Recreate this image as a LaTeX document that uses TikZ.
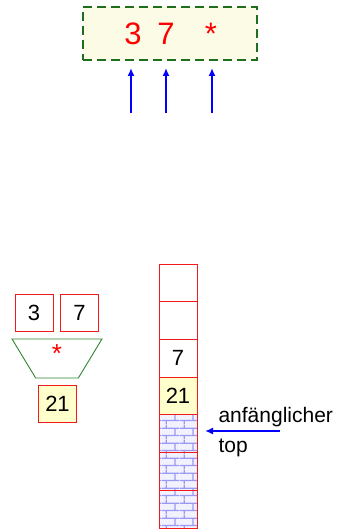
\documentclass[tikz,border=0pt]{standalone}
\usepackage{fontspec}
\setmainfont{Liberation Sans}
\usetikzlibrary{
  arrows.meta,
  patterns.meta,
  positioning,
  shapes.geometric
}
\definecolor{opred}{HTML}{FF0000}
\definecolor{cellred}{HTML}{F21A1A}
\definecolor{darkgreen}{HTML}{1E6E1E}
\definecolor{opgreen}{HTML}{2E862E}
\definecolor{paleyellow}{HTML}{FFFFCC}
\definecolor{exprfill}{HTML}{FCFCE6}
\definecolor{arrowblue}{HTML}{0000FF}
\definecolor{mortar}{HTML}{9A9AF4}
\definecolor{brickface}{HTML}{F2F2FF}

% wall of bricks for the occupied stack slots
\tikzdeclarepattern{
  name=brickwall,
  type=uncolored,
  bottom left={(0pt,0pt)},
  top right={(18pt,15pt)},
  tile size={(18pt,15pt)},
  code={
    \draw[line width=1.3pt]
      (0pt,3.75pt) -- (18pt,3.75pt)
      (0pt,11.25pt) -- (18pt,11.25pt)
      (13.5pt,3.75pt) -- (13.5pt,11.25pt)
      (4.5pt,0pt) -- (4.5pt,3.75pt)
      (4.5pt,11.25pt) -- (4.5pt,15pt);
  }
}

\tikzset{
  cell/.style={
    draw=cellred,
    line width=0.8pt,
    minimum width=38pt,
    minimum height=37.7pt,
    inner sep=0pt,
    outer sep=0pt,
    font=\fontsize{22}{22}\selectfont
  },
  result/.style={cell, fill=paleyellow},
  filled/.style={
    cell,
    preaction={fill=brickface},
    pattern=brickwall,
    pattern color=mortar
  },
  token/.style={anchor=base, text=opred, font=\fontsize{31}{31}\selectfont},
  expr/.style={
    draw=darkgreen,
    line width=1.6pt,
    dash pattern=on 9pt off 5pt,
    fill=exprfill,
    minimum width=174pt,
    minimum height=53pt
  },
  operator/.style={
    trapezium,
    shape border rotate=180,
    trapezium angle=61,
    trapezium stretches=true,
    draw=opgreen,
    line width=0.9pt,
    minimum width=90pt,
    minimum height=39pt
  },
  arrow/.style={-{Latex[length=8pt, width=7pt]}, line width=1.6pt, draw=arrowblue},
  note/.style={anchor=base west, font=\fontsize{21}{21}\selectfont}
}

\begin{document}
\begin{tikzpicture}[x=1pt, y=-1pt]
  \useasboundingbox (0,0) rectangle (337,529);

  % postfix expression being read
  \node[expr] (input) at (170,33.5) {};
  \node[token] (tokA) at (133,45) {3};
  \node[token] (tokB) at (166,45) {7};
  \node[token] (tokOp) at (211,45) {*};

  \coordinate (readA) at (131,113);
  \coordinate (readB) at (166,113);
  \coordinate (readOp) at (212,113);
  \coordinate (hitA) at (131,68);
  \coordinate (hitB) at (166,68);
  \coordinate (hitOp) at (212,68);
  \draw[arrow] (readA) -- (hitA);
  \draw[arrow] (readB) -- (hitB);
  \draw[arrow] (readOp) -- (hitOp);

  % operator applied to the two popped operands
  \node[cell] (lhs) at (34,313) {3};
  \node[cell] (rhs) at (79.5,313) {7};
  \node[operator] (mult) at (57,358.5) {};
  \node[text=opred, font=\fontsize{26}{26}\selectfont] (multsym) at (57,354) {*};
  \node[result] (res) at (57.5,404) {21};

  % the stack
  \node[cell] (s7) at (178,282.85) {};
  \node[cell, below=0pt of s7] (s6) {};
  \node[cell, below=0pt of s6] (s5) {7};
  \node[result, below=0pt of s5] (s4) {21};
  \node[filled, below=0pt of s4] (s3) {};
  \node[filled, below=0pt of s3] (s2) {};
  \node[filled, below=0pt of s2] (s1) {};

  \coordinate (topfrom) at (280,431);
  \coordinate (topto) at (205,431);
  \draw[arrow] (topfrom) -- (topto);
  \node[note] (initlbl) at (215,422) {anfänglicher};
  \node[note] (toplbl) at (215,452) {top};
\end{tikzpicture}
\end{document}
